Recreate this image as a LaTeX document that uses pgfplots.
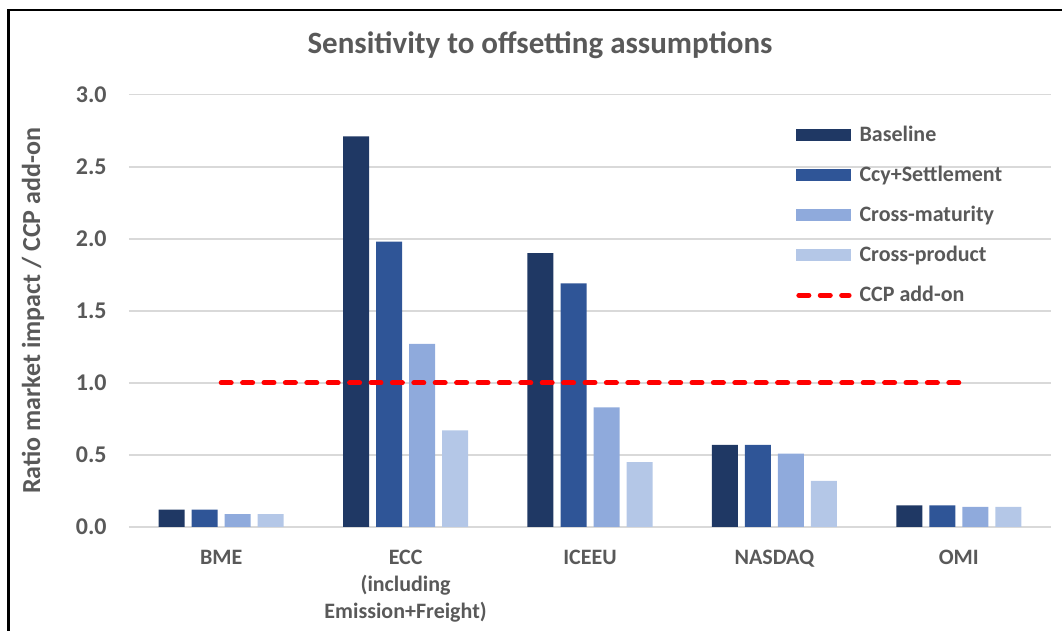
\documentclass[border=0pt]{standalone}
\usepackage{fontspec}
\setmainfont{Carlito}
\usepackage{pgfplots}
\pgfplotsset{compat=1.18}

\definecolor{cBase}{HTML}{1F3864}
\definecolor{cCcy}{HTML}{2F5597}
\definecolor{cMat}{HTML}{8FAADC}
\definecolor{cProd}{HTML}{B4C7E7}
\definecolor{txt}{HTML}{595959}
\definecolor{gridc}{HTML}{D9D9D9}

\begin{document}
\begin{tikzpicture}
\path[use as bounding box] (0,0) rectangle (531pt,315.5pt);
% chart frame (only top and left edges fall inside the picture)
\draw[line width=1.3pt] (4.3pt,-5pt) -- (4.3pt,310.5pt) -- (540pt,310.5pt);
\node[font=\fontsize{15.5}{18}\selectfont\bfseries, text=txt] at (270pt,293pt) {Sensitivity to offsetting assumptions};

\begin{axis}[
    at={(64.5pt,52pt)}, anchor=south west,
    scale only axis,
    width=461pt, height=216.15pt,
    xmin=-0.5, xmax=4.5,
    ymin=0, ymax=3,
    xtick={0,1,2,3,4},
    xticklabels={BME, {ECC\\(including\\Emission+Freight)}, ICEEU, NASDAQ, OMI},
    ytick={0,0.5,...,3},
    axis line style={draw=none},
    major tick length=0pt,
    ymajorgrids,
    grid style={draw=gridc, line width=0.8pt},
    /pgf/number format/assume math mode=true,
    yticklabel style={/pgf/number format/.cd, fixed, fixed zerofill, precision=1, /tikz/.cd,
        font=\fontsize{12}{14}\selectfont\bfseries, text=txt, inner sep=0pt, anchor=east, xshift=-11pt},
    xticklabel style={font=\fontsize{11}{13.5}\selectfont\bfseries, text=txt, align=center,
        inner sep=0pt, anchor=north, yshift=-11.5pt},
    ylabel={Ratio market impact / CCP add-on},
    every axis y label/.style={at={(axis description cs:-0.104,0.5)}, rotate=90, anchor=center,
        font=\fontsize{13}{15}\selectfont\bfseries, text=txt},
    legend cell align=left,
    legend style={at={(rel axis cs:0.7234,0.93)}, anchor=north west, draw=none, fill=none,
        inner sep=0pt, row sep=10pt, font=\fontsize{11}{13}\selectfont\bfseries, text=txt,
        nodes={inner sep=0pt, text height=8pt, text depth=2pt},
        /tikz/every odd column/.append style={column sep=4pt}},
]
\addplot[ybar, bar width=13pt, bar shift=-24.75pt, fill=cBase, draw=none,
    legend image code/.code={\fill[cBase] (0pt,-3pt) rectangle (27.5pt,3pt);}]
    coordinates {(0,0.12) (1,2.71) (2,1.90) (3,0.57) (4,0.15)};
\addlegendentry{Baseline}
\addplot[ybar, bar width=13pt, bar shift=-8.25pt, fill=cCcy, draw=none,
    legend image code/.code={\fill[cCcy] (0pt,-3pt) rectangle (27.5pt,3pt);}]
    coordinates {(0,0.12) (1,1.98) (2,1.69) (3,0.57) (4,0.15)};
\addlegendentry{Ccy+Settlement}
\addplot[ybar, bar width=13pt, bar shift=8.25pt, fill=cMat, draw=none,
    legend image code/.code={\fill[cMat] (0pt,-3pt) rectangle (27.5pt,3pt);}]
    coordinates {(0,0.09) (1,1.27) (2,0.83) (3,0.51) (4,0.14)};
\addlegendentry{Cross-maturity}
\addplot[ybar, bar width=13pt, bar shift=24.75pt, fill=cProd, draw=none,
    legend image code/.code={\fill[cProd] (0pt,-3pt) rectangle (27.5pt,3pt);}]
    coordinates {(0,0.09) (1,0.67) (2,0.45) (3,0.32) (4,0.14)};
\addlegendentry{Cross-product}
\addplot[red, line width=2.5pt, line cap=round, dash pattern=on 5pt off 5.7pt,
    legend image code/.code={\draw[red, line width=2.5pt, line cap=round, dash pattern=on 5pt off 5.7pt] (1.2pt,0pt) -- (26.3pt,0pt);}]
    coordinates {(0,1) (4,1)};
\addlegendentry{CCP add-on}
\end{axis}
\end{tikzpicture}
\end{document}
